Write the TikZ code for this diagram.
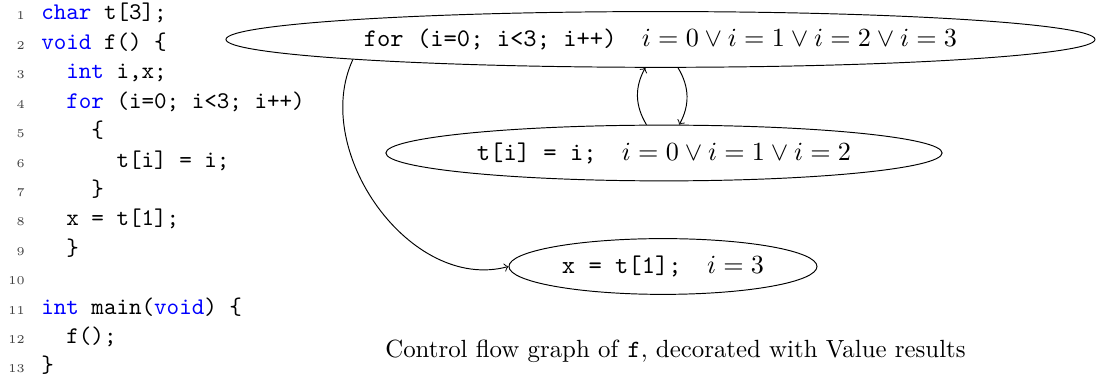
\documentclass[tikz,border=0pt]{standalone}
\usetikzlibrary{positioning, shapes.geometric}
\newcommand{\keyw}[1]{\textcolor{blue}{#1}}

\begin{document}
\begin{tikzpicture}[
    lnum/.style={anchor=base east, inner sep=0pt, font=\tiny, text=black!75},
    src/.style={anchor=base west, inner sep=0pt, font=\ttfamily},
    cfg/.style={ellipse, draw, inner sep=0pt, minimum height=0.82cm, font=\fontsize{10.6}{12}\selectfont},
    flow/.style={->}]
  \useasboundingbox (0,0) rectangle (16.118,5.529);

  % listing
  \foreach \n in {1,...,13}
    \node[lnum] (ln\n) at (0.37,{5.235-0.4324*(\n-1)}) {\n};

  \node[src] (src1)  at (0.600,5.235) {\keyw{char} t[3];};
  \node[src] (src2)  at (0.600,4.803) {\keyw{void} f() \{};
  \node[src] (src3)  at (0.969,4.370) {\keyw{int} i,x;};
  \node[src] (src4)  at (0.969,3.938) {\keyw{for} (i=0; i<3; i++)};
  \node[src] (src5)  at (1.338,3.505) {\{};
  \node[src] (src6)  at (1.707,3.073) {t[i] = i;};
  \node[src] (src7)  at (1.338,2.641) {\}};
  \node[src] (src8)  at (0.969,2.208) {x = t[1];};
  \node[src] (src9)  at (0.969,1.776) {\}};
  \node[src] (src11) at (0.600,0.911) {\keyw{int} main(\keyw{void}) \{};
  \node[src] (src12) at (0.969,0.479) {f();};
  \node[src] (src13) at (0.600,0.046) {\}};

  % control flow graph
  \node[cfg, minimum width=12.78cm] (loop) at (9.713,4.949)
    {\texttt{for (i=0; i<3; i++)}\quad$i=0\lor i=1\lor i=2\lor i=3$};
  \node[cfg, minimum width=8.18cm] (body) at (9.765,3.279)
    {\texttt{t[i] = i;}\quad$i=0\lor i=1\lor i=2$};
  \node[cfg, minimum width=4.53cm] (exit) at (9.750,1.610)
    {\texttt{x = t[1];}\quad$i=3$};

  \draw[flow] (loop) to[bend left] (body);
  \draw[flow] (body) to[bend left] (loop);
  \draw[flow] (loop.south west) to[out=245, in=195] (exit.west);

  \node[anchor=base, font=\fontsize{10.4}{12}\selectfont] (caption) at (9.934,0.265)
    {Control flow graph of \texttt{f}, decorated with Value results};
\end{tikzpicture}
\end{document}
